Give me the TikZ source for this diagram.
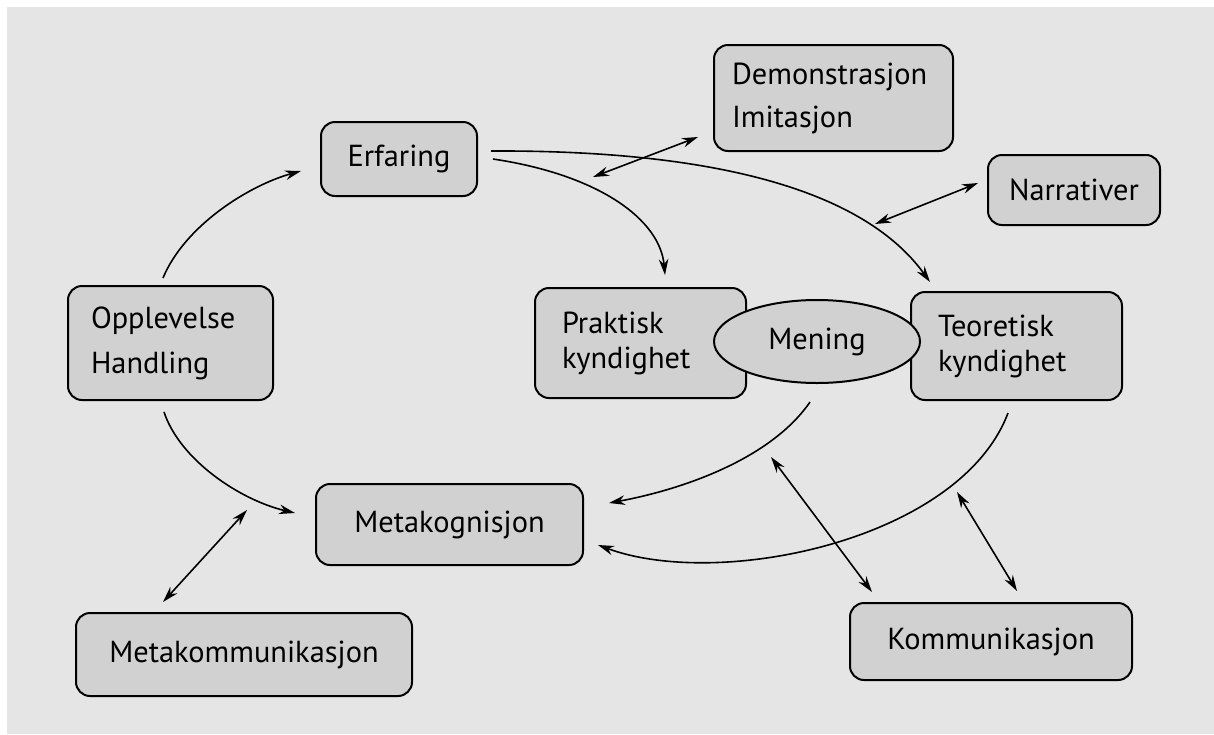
\documentclass[tikz,border=0pt]{standalone}
\usepackage{fontspec}
\setmainfont{PT Sans}
\usetikzlibrary{arrows.meta,shapes.geometric}
\definecolor{paper}{gray}{0.9}
\definecolor{boxfill}{gray}{0.82}
\begin{document}
\begin{tikzpicture}[x=0.5pt,y=-0.5pt,
  txt/.style={font=\fontsize{15.2}{17.5}\selectfont},
  box/.style={draw=black, line width=1pt, rounded corners=7pt, fill=boxfill, inner sep=0pt, txt},
  lbox/.style={box, align=left},
  ell/.style={draw=black, line width=1pt, ellipse, fill=boxfill, inner sep=0pt, txt},
  conn/.style={line width=0.8pt, -{Stealth[length=8pt,width=4.8pt]}},
  dconn/.style={line width=0.8pt, {Stealth[length=8pt,width=4.8pt]}-{Stealth[length=8pt,width=4.8pt]}}]
\useasboundingbox (0,0) rectangle (1214,734);
\fill[white] (0,0) rectangle (1214,734);
\fill[paper] (7,7) rectangle (1214,734);

% nodes
\node[box, minimum width=78pt, minimum height=37pt] (erf) at (399,159) {Erfaring};
\node[lbox, minimum height=53pt, text width=101.5pt, inner xsep=9pt] (dem) at (833.5,98) {Demonstrasjon\\[4pt]Imitasjon};
\node[box, minimum width=86pt, minimum height=35pt] (nar) at (1074,190) {Narrativer};
\node[lbox, minimum height=57pt, text width=79.5pt, inner xsep=11.5pt] (opp) at (170.5,343) {Opplevelse\\[5pt]Handling};
\node[lbox, minimum height=55pt, text width=78.5pt, inner xsep=13.5pt] (pra) at (640.5,343) {Praktisk\\kyndighet};
\node[lbox, minimum height=54pt, text width=78.5pt, inner xsep=13.5pt] (teo) at (1016.5,346) {Teoretisk\\kyndighet};
\node[ell, minimum width=103pt, minimum height=41.5pt] (men) at (817,341.5) {Mening};
\node[box, minimum width=133.5pt, minimum height=40.5pt] (mkog) at (449.5,524.5) {Metakognisjon};
\node[box, minimum width=168pt, minimum height=41.5pt] (mkom) at (244,654.5) {Metakommunikasjon};
\node[box, minimum width=141pt, minimum height=38.5pt] (kom) at (991,641.5) {Kommunikasjon};

% free ends of connectors
\coordinate (oppA) at (163,278);
\coordinate (erfA) at (301,171);
\coordinate (oppB) at (164,412);
\coordinate (mkogA) at (295,513);
\coordinate (mkogB) at (247,510);
\coordinate (mkomA) at (163,602);
\coordinate (erfB) at (491,151);
\coordinate (teoA) at (930,282);
\coordinate (erfC) at (493,159);
\coordinate (praA) at (665,275);
\coordinate (demA) at (698,137);
\coordinate (demB) at (593,177);
\coordinate (narA) at (978,183);
\coordinate (narB) at (875,224);
\coordinate (menA) at (810,402);
\coordinate (mkogC) at (609,503);
\coordinate (teoB) at (1008,413);
\coordinate (mkogD) at (598,545);
\coordinate (menB) at (771,457);
\coordinate (komA) at (872,592);
\coordinate (teoC) at (957,492);
\coordinate (komB) at (1017,591);

% connectors
\draw[conn] (oppA) .. controls (185,225) and (250,185) .. (erfA);
\draw[conn] (oppB) .. controls (180,460) and (240,500) .. (mkogA);
\draw[dconn] (mkogB) -- (mkomA);
\draw[conn] (erfB) .. controls (700,150) and (860,185) .. (teoA);
\draw[conn] (erfC) .. controls (600,175) and (660,220) .. (praA);
\draw[dconn] (demA) -- (demB);
\draw[dconn] (narA) -- (narB);
\draw[conn] (menA) .. controls (770,460) and (680,490) .. (mkogC);
\draw[conn] (teoB) .. controls (960,540) and (720,590) .. (mkogD);
\draw[dconn] (menB) -- (komA);
\draw[dconn] (teoC) -- (komB);
\end{tikzpicture}
\end{document}
